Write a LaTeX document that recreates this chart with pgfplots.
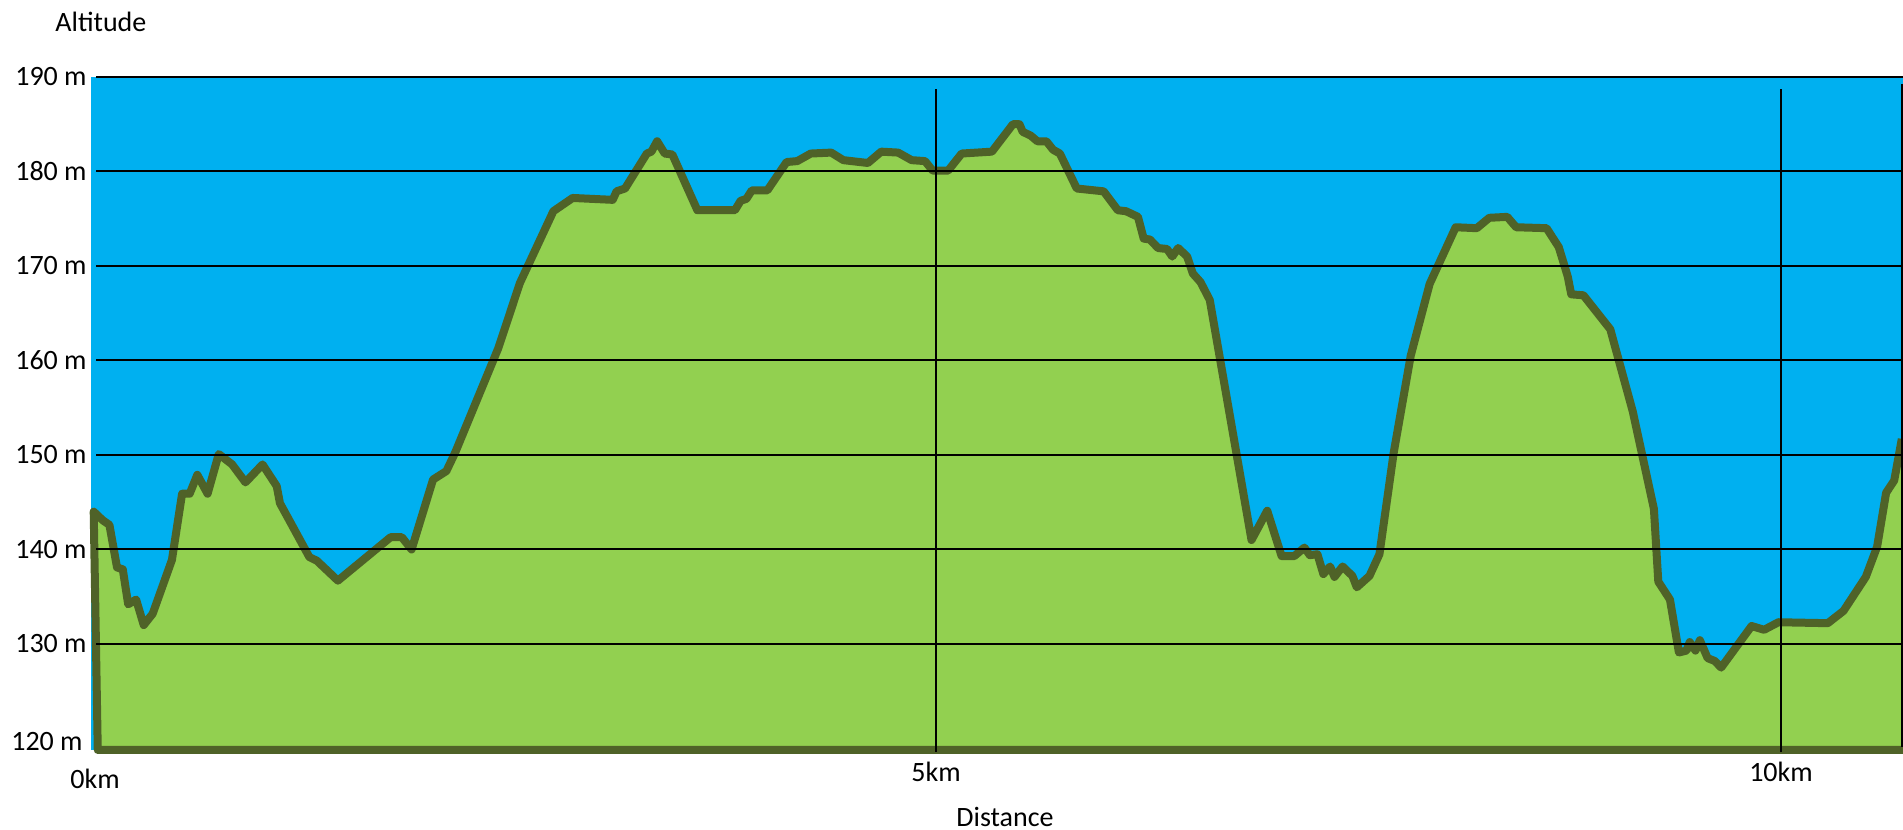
\documentclass[border=0pt]{standalone}
\usepackage{pgfplots}
\usepackage{pgfplotstable}
\pgfplotsset{compat=1.18}
\usepackage{fontspec}
\setmainfont{Carlito}
\definecolor{skyb}{HTML}{00B0F0}
\definecolor{grass}{HTML}{92D050}
\definecolor{olivedark}{HTML}{4F6228}
\pgfplotstableread{
x y
10.722 118.78
0.040 118.78
0.016 144.0
0.069 143.1
0.109 142.6
0.154 138.1
0.188 137.9
0.220 134.2
0.267 134.7
0.312 132.0
0.365 133.2
0.479 138.9
0.539 145.9
0.584 145.9
0.629 147.9
0.690 145.9
0.756 150.1
0.835 149.0
0.914 147.1
1.015 149.0
1.099 146.7
1.118 144.9
1.292 139.2
1.337 138.8
1.461 136.7
1.773 141.3
1.839 141.3
1.897 140.0
2.024 147.4
2.103 148.3
2.156 150.3
2.410 161.3
2.538 168.2
2.736 175.8
2.850 177.2
3.087 177.0
3.110 177.9
3.160 178.2
3.289 181.9
3.316 182.1
3.350 183.2
3.395 181.9
3.440 181.8
3.588 175.9
3.810 175.9
3.844 176.9
3.878 177.1
3.910 178.0
4.002 178.0
4.116 181.0
4.179 181.1
4.259 181.9
4.380 182.0
4.452 181.2
4.597 180.9
4.676 182.1
4.776 182.0
4.856 181.2
4.935 181.1
4.980 180.1
5.072 180.1
5.152 181.9
5.331 182.1
5.455 185.0
5.494 185.0
5.513 184.2
5.560 183.8
5.600 183.2
5.653 183.2
5.693 182.3
5.733 181.9
5.833 178.2
5.992 177.9
6.076 175.9
6.124 175.8
6.195 175.2
6.229 172.9
6.266 172.8
6.314 171.9
6.367 171.8
6.398 171.0
6.433 171.9
6.486 171.0
6.520 169.2
6.565 168.3
6.620 166.4
6.867 141.0
6.960 144.1
7.045 139.3
7.120 139.3
7.180 140.2
7.212 139.4
7.257 139.5
7.292 137.4
7.332 138.2
7.358 137.1
7.406 138.2
7.464 137.2
7.490 136.0
7.565 137.2
7.624 139.5
7.708 150.2
7.809 160.5
7.921 168.1
8.075 174.1
8.200 174.0
8.274 175.1
8.380 175.2
8.433 174.1
8.613 174.0
8.685 172.0
8.738 168.9
8.759 167.0
8.831 166.9
8.990 163.3
9.123 154.6
9.248 144.3
9.274 136.6
9.343 134.7
9.396 129.1
9.441 129.3
9.460 130.2
9.494 129.3
9.520 130.4
9.566 128.5
9.608 128.2
9.646 127.5
9.826 131.9
9.900 131.5
9.985 132.3
10.277 132.2
10.370 133.5
10.502 137.1
10.569 140.3
10.622 146.0
10.670 147.3
10.715 151.7
}\profile
\begin{document}
\begin{tikzpicture}
\useasboundingbox (0pt,0pt) rectangle (951.5pt,415pt);
\begin{axis}[
  at={(45.5pt,40pt)}, anchor=south west,
  scale only axis, width=906pt, height=336.5pt,
  xmin=0, xmax=10.722, ymin=118.78, ymax=190,
  clip=false,
  axis line style={draw=none},
  major tick length=0pt,
  axis background/.style={fill=skyb},
  tick label style={font=\fontsize{14}{17}\selectfont},
  xtick={5,10}, xticklabels={5km,10km},
  ytick={130,140,150,160,170,180,190},
  yticklabels={130 m,140 m,150 m,160 m,170 m,180 m,190 m},
  xticklabel style={anchor=north, inner sep=0pt, yshift=-5.85pt},
  yticklabel style={anchor=east, inner sep=0pt, xshift=-2pt},
  extra x ticks={0}, extra x tick labels={0km},
  extra x tick style={xticklabel style={yshift=-3.5pt, xshift=2pt}},
  extra y ticks={120}, extra y tick labels={120 m},
  extra y tick style={yticklabel style={yshift=-1.5pt, xshift=-2pt}},
]
\addplot[fill=grass, draw=none] table[x=x,y=y]{\profile} -- cycle;
\addplot[draw=olivedark, line width=4pt, line join=round] table[x=x,y=y]{\profile};
\draw[black, line width=1pt] (axis cs:0.03,130) -- (axis cs:10.722,130);
\draw[black, line width=1pt] (axis cs:0.03,140) -- (axis cs:10.722,140);
\draw[black, line width=1pt] (axis cs:0.03,150) -- (axis cs:10.722,150);
\draw[black, line width=1pt] (axis cs:0.03,160) -- (axis cs:10.722,160);
\draw[black, line width=1pt] (axis cs:0.03,170) -- (axis cs:10.722,170);
\draw[black, line width=1pt] (axis cs:0.03,180) -- (axis cs:10.722,180);
\draw[black, line width=1pt] (axis cs:0.03,190) -- (axis cs:10.722,190);
\draw[black, line width=1pt] (axis cs:5,188.73) -- (axis cs:5,118.57);
\draw[black, line width=1pt] (axis cs:10,188.73) -- (axis cs:10,118.57);
\draw[black, line width=0.8pt] (axis cs:10.716,189.26) -- (axis cs:10.716,119.1);
\end{axis}
\node[anchor=west, inner sep=0pt, font=\fontsize{14}{17}\selectfont] at (27.5pt,404pt) {Altitude};
\node[anchor=west, inner sep=0pt, font=\fontsize{14}{17}\selectfont] at (478pt,6.5pt) {Distance};
\end{tikzpicture}
\end{document}
